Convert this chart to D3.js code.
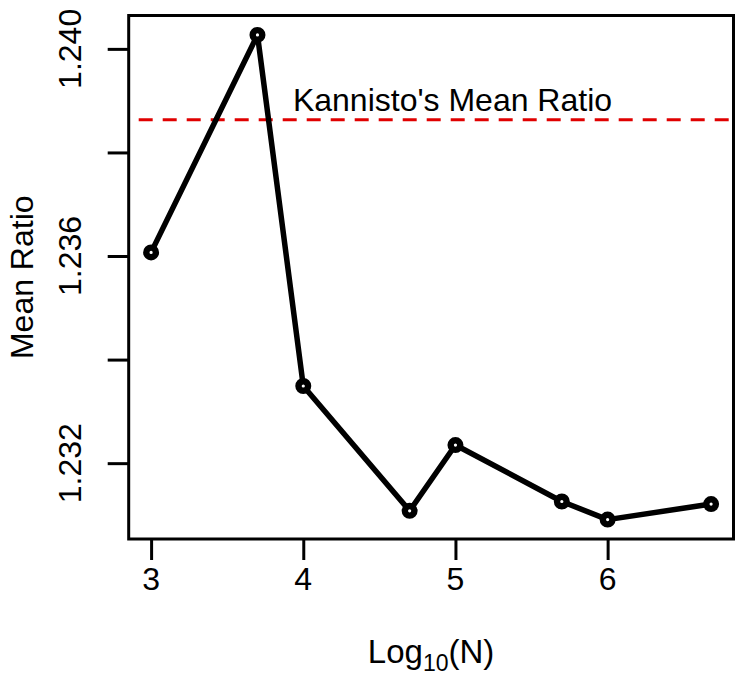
<!DOCTYPE html>
<html>
<head>
<meta charset="utf-8">
<script src="https://cdn.jsdelivr.net/npm/d3@7"></script>
<style>
  html, body { margin: 0; padding: 0; background: #fff; }
  svg { display: block; }
  text { font-family: "Liberation Sans", Arial, sans-serif; fill: #000; }
</style>
</head>
<body>
<svg id="chart" width="745" height="680"></svg>
<script>
// ---- data ----
const logN = [3, 3.699, 4, 4.699, 5, 5.699, 6, 6.68];
const meanRatio = [1.23607, 1.24027, 1.23349, 1.23108, 1.23235, 1.23126, 1.23091, 1.23121];
const kannistoMean = 1.23863;
const kannistoLabel = "Kannisto's Mean Ratio";
const xTicks = [3, 4, 5, 6];
const xTickLabels = ["3", "4", "5", "6"];
const yTicks = [1.232, 1.234, 1.236, 1.238, 1.240];
const yTickLabels = ["1.232", "", "1.236", "", "1.240"];

// ---- layout ----
const W = 745, H = 680;
const margin = { left: 128.7, top: 15.5, right: 11.5, bottom: 141 };
const pw = W - margin.left - margin.right;
const ph = H - margin.top - margin.bottom;

const svg = d3.select("#chart");
const g = svg.append("g").attr("transform", `translate(${margin.left},${margin.top})`);

// R-style 4% extension of data range
function ext(arr) {
  const [a, b] = d3.extent(arr);
  const d = (b - a) * 0.04;
  return [a - d, b + d];
}
const x = d3.scaleLinear().domain(ext(logN)).range([0, pw]);
const y = d3.scaleLinear().domain(ext(meanRatio)).range([ph, 0]);

const fs = 32;

// x axis ticks
const xAxis = g.append("g").attr("transform", `translate(0,${ph})`)
  .call(d3.axisBottom(x).tickValues(xTicks).tickSize(21).tickFormat(""));
xAxis.select(".domain").remove();
xAxis.selectAll(".tick line").attr("stroke", "#000").attr("stroke-width", 3);

g.selectAll(".xlab").data(xTicks).enter().append("text")
  .attr("class", "xlab")
  .attr("x", d => x(d))
  .attr("y", 590 - margin.top)
  .attr("text-anchor", "middle")
  .attr("font-size", fs)
  .text((d, i) => xTickLabels[i]);

// y axis ticks
const yAxis = g.append("g")
  .call(d3.axisLeft(y).tickValues(yTicks).tickSize(21).tickFormat(""));
yAxis.select(".domain").remove();
yAxis.selectAll(".tick line").attr("stroke", "#000").attr("stroke-width", 3);

g.selectAll(".ylab").data(yTicks).enter().append("text")
  .attr("class", "ylab")
  .attr("transform", d => `translate(${81 - margin.left},${y(d)}) rotate(-90)`)
  .attr("text-anchor", "middle")
  .attr("font-size", fs)
  .text((d, i) => yTickLabels[i]);

// reference line
g.append("line")
  .attr("x1", 0).attr("x2", pw)
  .attr("y1", y(kannistoMean)).attr("y2", y(kannistoMean))
  .attr("stroke", "#e00000")
  .attr("stroke-width", 3)
  .attr("stroke-dasharray", "14,10")
  .attr("stroke-dashoffset", -10);

g.append("text")
  .attr("x", 452.5 - margin.left)
  .attr("y", 111 - margin.top)
  .attr("text-anchor", "middle")
  .attr("font-size", fs)
  .text(kannistoLabel);

// data line
const pts = logN.map((v, i) => [v, meanRatio[i]]);
g.append("path")
  .datum(pts)
  .attr("fill", "none")
  .attr("stroke", "#000")
  .attr("stroke-width", 5.5)
  .attr("stroke-linejoin", "round")
  .attr("d", d3.line().x(d => x(d[0])).y(d => y(d[1])));

g.selectAll(".pt").data(pts).enter().append("circle")
  .attr("class", "pt")
  .attr("cx", d => x(d[0]))
  .attr("cy", d => y(d[1]))
  .attr("r", 4.8)
  .attr("fill", "#fff")
  .attr("stroke", "#000")
  .attr("stroke-width", 6.4);

// box
g.append("rect")
  .attr("x", 0).attr("y", 0)
  .attr("width", pw).attr("height", ph)
  .attr("fill", "none")
  .attr("stroke", "#000")
  .attr("stroke-width", 3);

// axis titles
const xt = svg.append("text")
  .attr("x", margin.left + pw / 2)
  .attr("y", 663)
  .attr("text-anchor", "middle")
  .attr("font-size", 33);
xt.append("tspan").text("Log");
xt.append("tspan").attr("font-size", 23).attr("dy", 8).text("10");
xt.append("tspan").attr("dy", -8).text("(N)");

svg.append("text")
  .attr("transform", `translate(33,${margin.top + ph / 2}) rotate(-90)`)
  .attr("text-anchor", "middle")
  .attr("font-size", fs)
  .text("Mean Ratio");
</script>
</body>
</html>
